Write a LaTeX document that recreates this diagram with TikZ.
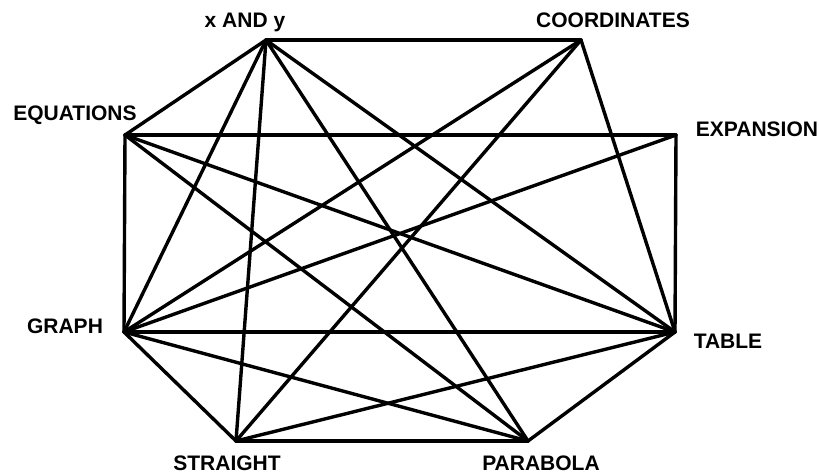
\documentclass[tikz,border=0pt]{standalone}
\usepackage{fontspec}
\setmainfont{Liberation Sans}
\begin{document}
\begin{tikzpicture}[x=1pt,y=-1pt,every node/.style={font=\bfseries\fontsize{21}{25}\selectfont,anchor=base,inner sep=0pt},link/.style={line width=3.4pt,line cap=round,line join=round}]
\useasboundingbox (0,0) rectangle (819,475);
% corner points
\coordinate (xy) at (266,40);
\coordinate (co) at (581,40);
\coordinate (eq) at (125,135);
\coordinate (ex) at (676,135);
\coordinate (gr) at (124,332);
\coordinate (ta) at (675,332);
\coordinate (st) at (236,441);
\coordinate (pa) at (528,441);
% labels
\node (xylab) at (245,27) {x AND y};
\node (colab) at (613,27) {COORDINATES};
\node (eqlab) at (75,120) {EQUATIONS};
\node (exlab) at (757,136) {EXPANSION};
\node (grlab) at (65,333) {GRAPH};
\node (talab) at (728,348) {TABLE};
\node (stlab) at (227,470) {STRAIGHT};
\node (palab) at (541,470) {PARABOLA};
% links
\draw[link] (xy) -- (co);
\draw[link] (xy) -- (eq);
\draw[link] (xy) -- (gr);
\draw[link] (xy) -- (st);
\draw[link] (xy) -- (pa);
\draw[link] (xy) -- (ta);
\draw[link] (co) -- (gr);
\draw[link] (co) -- (st);
\draw[link] (co) -- (ta);
\draw[link] (eq) -- (ex);
\draw[link] (eq) -- (gr);
\draw[link] (eq) -- (ta);
\draw[link] (eq) -- (pa);
\draw[link] (ex) -- (gr);
\draw[link] (ex) -- (ta);
\draw[link] (gr) -- (ta);
\draw[link] (gr) -- (st);
\draw[link] (gr) -- (pa);
\draw[link] (st) -- (pa);
\draw[link] (st) -- (ta);
\draw[link] (pa) -- (ta);
\end{tikzpicture}
\end{document}
